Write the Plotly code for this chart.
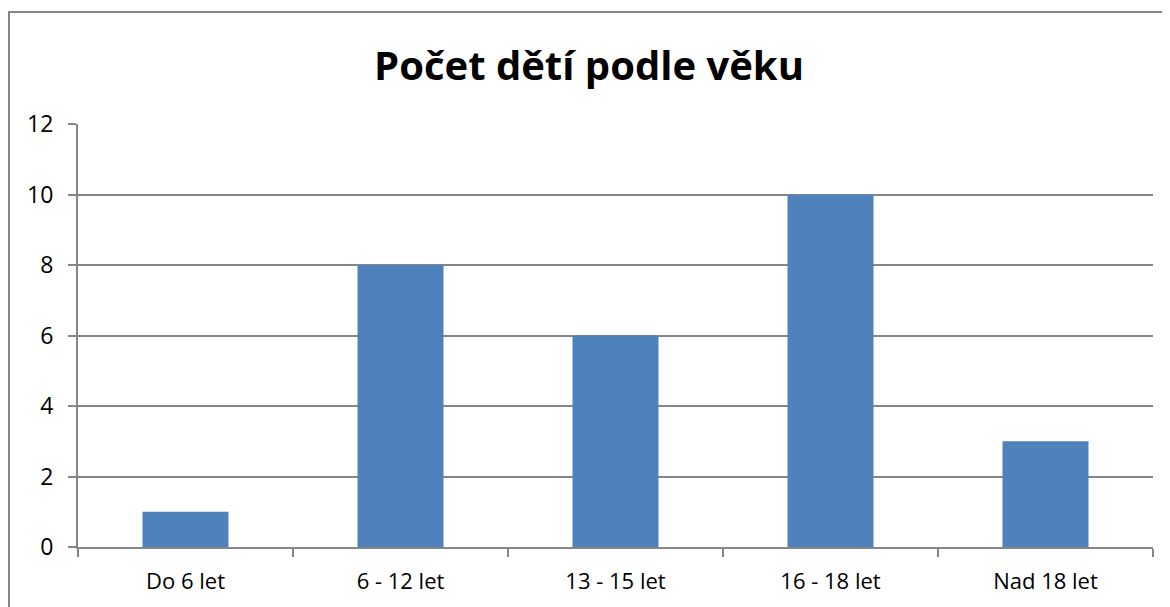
import plotly.graph_objects as go

categories = ['Do 6 let', '6 - 12 let', '13 - 15 let', '16 - 18 let', 'Nad 18 let']
counts = [1, 8, 6, 10, 3]
y_ticks = [0, 2, 4, 6, 8, 10, 12]

GRAY = '#868686'
# page has an 8px body margin, so the figure is a bit smaller than the window
W, H = 1162, 599
L, R, T, B = 70, 17, 116, 60
pw, ph = W - L - R, H - T - B

fig = go.Figure()
fig.add_trace(go.Bar(x=categories, y=counts,
                     marker=dict(color='#4F81BD', line=dict(width=0)),
                     showlegend=False))

# outer chart frame (runs off the right/bottom edge as in the source)
fig.add_shape(type='rect', xref='paper', yref='paper',
              x0=(1 - L) / pw, x1=1.2,
              y0=-0.5, y1=1 + (T - 4) / ph,
              line=dict(color=GRAY, width=2), layer='below')

fig.update_layout(
    width=W, height=H,
    margin=dict(l=L, r=R, t=T, b=B),
    paper_bgcolor='white', plot_bgcolor='white',
    bargap=0.6,
    font=dict(family='Open Sans', size=19, color='black'),
    title=dict(text='<b>Počet dětí podle věku</b>', x=0.5, xanchor='center',
               y=1 - 58 / H, yanchor='middle',
               font=dict(family='Open Sans', size=40, color='black')),
    xaxis=dict(showline=True, linecolor=GRAY, linewidth=2,
               ticks='outside', tickson='boundaries', ticklen=8,
               tickcolor=GRAY, tickwidth=2, showgrid=False,
               tickfont=dict(size=22), ticklabelstandoff=14),
    yaxis=dict(range=[0, 12], tickvals=y_ticks, showline=True,
               linecolor=GRAY, linewidth=2, ticks='outside', ticklen=8,
               tickcolor=GRAY, tickwidth=2, showgrid=True,
               gridcolor=GRAY, gridwidth=2, zeroline=False,
               tickfont=dict(size=23), ticklabelstandoff=10),
)

fig.write_html('out.html')
